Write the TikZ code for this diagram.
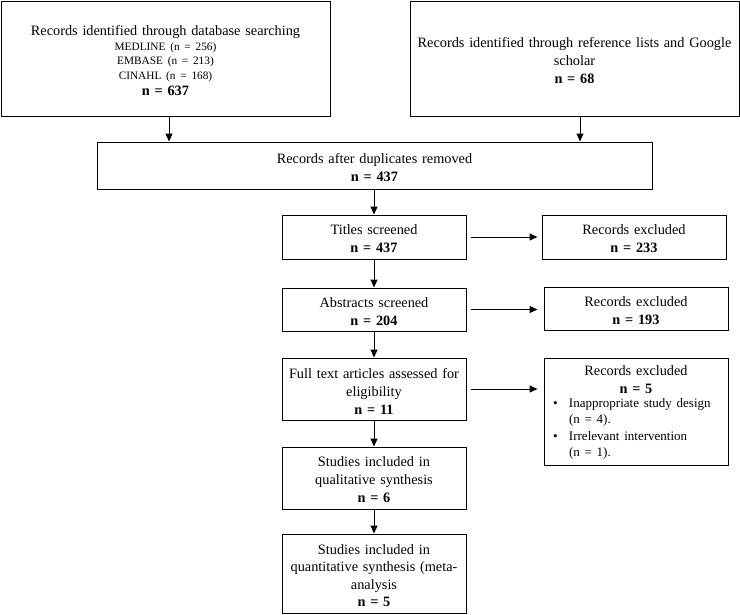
\documentclass[tikz,border=0pt]{standalone}
\usepackage{fontspec}
\setmainfont{Liberation Serif}
\usetikzlibrary{arrows.meta,calc}
\newcommand{\mainsz}{\fontsize{14.3}{18}\selectfont}
\newcommand{\smallsz}{\fontsize{11.3}{14.5}\selectfont}
\newcommand{\bulsz}{\fontsize{13}{16.3}\selectfont}
\newcommand{\lowertext}{\endgraf\vspace{-4pt}}
\begin{document}
\begin{tikzpicture}[x=1pt,y=-1pt,
  box/.style={draw=black, line width=1pt, inner sep=0pt, align=center, font=\mainsz,
    execute at end node=\lowertext},
  arr/.style={line width=1pt, -{Triangle[length=8pt,width=7pt]}}]
\useasboundingbox (0,0) rectangle (740,614);
\fill[white] (0,0) rectangle (740,614);

\node[box, minimum width=329, minimum height=115, text width=320] (b1) at (165.5,58.5)
  {{\mainsz Records identified through database searching\par}
   {\smallsz MEDLINE (n = 256)\\EMBASE (n = 213)\\CINAHL (n = 168)\par}
   {\fontsize{14.3}{16}\selectfont\bfseries n = 637\par}};
\node[box, minimum width=329, minimum height=115, text width=315] (b2) at (574.5,58.5)
  {Records identified through reference lists and Google\\ scholar\\ \textbf{n = 68}};
\node[box, minimum width=555, minimum height=47, text width=540] (b3) at (374.5,165.5)
  {Records after duplicates removed\\ \textbf{n = 437}};

\node[box, minimum width=184, minimum height=44, text width=176] (t) at (374,237)
  {Titles screened\\ \textbf{n = 437}};
\node[box, minimum width=184, minimum height=44, text width=176] (e1) at (634,237)
  {Records excluded\\ \textbf{n = 233}};

\node[box, minimum width=184, minimum height=43, text width=176] (a) at (374,309.5)
  {Abstracts screened\\ \textbf{n = 204}};
\node[box, minimum width=184, minimum height=43, text width=176] (e2) at (636,308.5)
  {Records excluded\\ \textbf{n = 193}};

\node[box, minimum width=184, minimum height=62, text width=176] (f) at (374,389)
  {Full text articles assessed for\\ eligibility\\ \textbf{n = 11}};
\node[box, minimum width=184, minimum height=107, text width=176] (e3) at (636,411.5)
  {{\mainsz Records excluded\\ \textbf{n = 5}\par}
   \vspace{1.5pt}
   {\bulsz\raggedright
   \begin{tabular}{@{}p{21pt}@{}p{155pt}@{}}
   \hspace{5pt}\textbullet & Inappropriate study design\\
    & (n = 4).\\
   \hspace{5pt}\textbullet & Irrelevant intervention\\
    & (n = 1).
   \end{tabular}\par}};

\node[box, minimum width=184, minimum height=62, text width=176] (q) at (374,478)
  {Studies included in\\ qualitative synthesis\\ \textbf{n = 6}};
\node[box, minimum width=184, minimum height=79, text width=176, font=\fontsize{14.3}{17.3}\selectfont] (m) at (374,573.5)
  {Studies included in\\ quantitative synthesis (meta-\\ analysis\\ \textbf{n = 5}};

\draw[arr] ([xshift=3.5]b1.south) -- ([xshift=3.5]b1.south |- b3.north);
\draw[arr] ([xshift=5.5]b2.south) -- ([xshift=5.5]b2.south |- b3.north);
\draw[arr] (b3.south -| t.north) -- (t.north);
\draw[arr] (t.south) -- (a.north);
\draw[arr] (a.south) -- (f.north);
\draw[arr] (f.south) -- (q.north);
\draw[arr] (q.south) -- (m.north);
\draw[arr] ([xshift=4]t.east) -- ([xshift=-4]t.east -| e1.west);
\draw[arr] ([xshift=4]a.east) -- ([xshift=-6]a.east -| e2.west);
\draw[arr] ([xshift=4]f.east) -- ([xshift=-6]f.east -| e3.west);
\end{tikzpicture}
\end{document}
